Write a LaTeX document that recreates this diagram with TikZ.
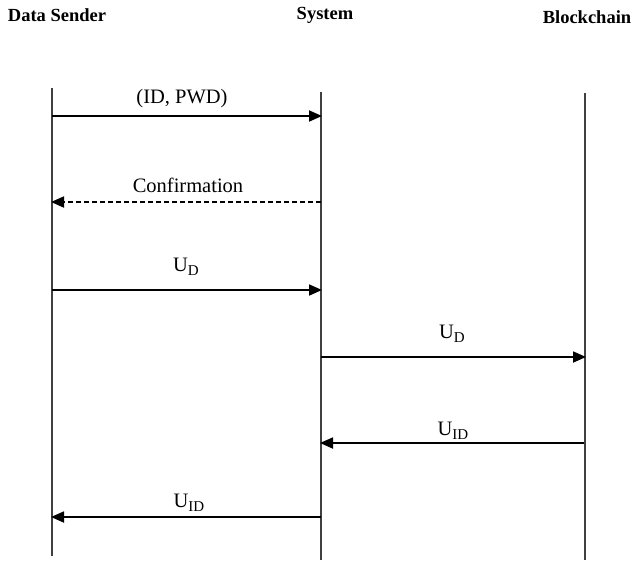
\documentclass[tikz,border=0pt]{standalone}
\usepackage{fontspec}
\setmainfont{Liberation Serif}
\usetikzlibrary{arrows.meta}
\begin{document}
\begin{tikzpicture}[x=1pt,y=-1pt,
  header/.style={font=\fontsize{18.5}{20}\selectfont\bfseries, inner sep=0pt},
  lbl/.style={font=\fontsize{20.5}{22}\selectfont, inner sep=0pt},
  sub/.style={},
  life/.style={line width=1.5pt, draw=black!75},
  msg/.style={line width=1.8pt, -{Triangle[length=13pt,width=11pt]}},
  ret/.style={msg, dashed, dash pattern=on 5pt off 3pt}]
\newcommand{\mysub}[1]{\raisebox{-0.2em}{\fontsize{15}{16}\selectfont #1}}
\useasboundingbox (0,0) rectangle (635,563);
% headers
\node[header] (hS) at (57,15) {Data Sender};
\node[header] (hY) at (325,15) {System};
\node[header] (hB) at (587,17) {Blockchain};
% lifelines
\coordinate (sT) at (52,88);  \coordinate (sB) at (52,556);
\coordinate (yT) at (321,92); \coordinate (yB) at (321,560);
\coordinate (bT) at (585,93); \coordinate (bB) at (585,560);
\draw[life] (sT) -- (sB);
\draw[life] (yT) -- (yB);
\draw[life] (bT) -- (bB);
% message points
\coordinate (s1) at (52,116); \coordinate (y1) at (322,116);
\coordinate (s2) at (51,202); \coordinate (y2) at (321,202);
\coordinate (s3) at (52,290); \coordinate (y3) at (322,290);
\coordinate (y4) at (321,357); \coordinate (b4) at (586,357);
\coordinate (y5) at (320,443); \coordinate (b5) at (584,443);
\coordinate (s6) at (51,517); \coordinate (y6) at (321,517);
\draw[msg] (s1) -- (y1);
\draw[ret] (y2) -- (s2);
\draw[msg] (s3) -- (y3);
\draw[msg] (y4) -- (b4);
\draw[msg] (b5) -- (y5);
\draw[msg] (y6) -- (s6);
% labels
\node[lbl] (l1) at (182,99) {(ID, PWD)};
\node[lbl] (l2) at (188,185) {Confirmation};
\node[lbl] (l3) at (186,267) {U\mysub{D}};
\node[lbl] (l4) at (452,334) {U\mysub{D}};
\node[lbl] (l5) at (453,431) {U\mysub{ID}};
\node[lbl] (l6) at (189,503) {U\mysub{ID}};
\end{tikzpicture}
\end{document}
